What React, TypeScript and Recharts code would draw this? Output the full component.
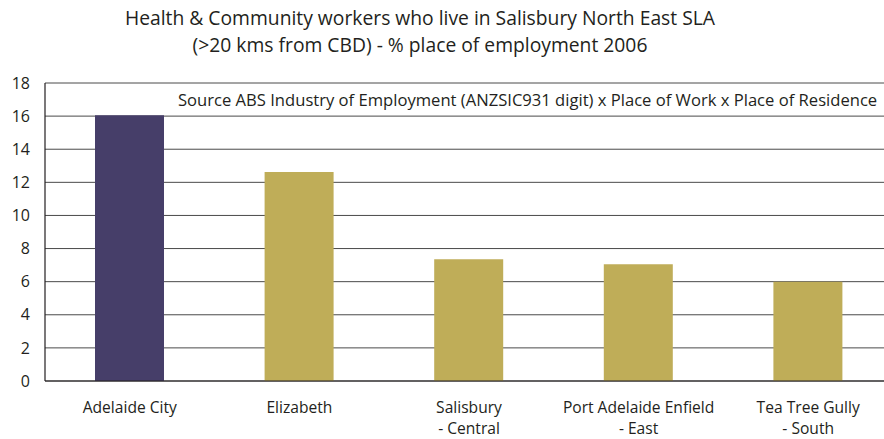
import type { FC } from "react";
import { BarChart, Bar, Cell, XAxis, YAxis, CartesianGrid } from "recharts";

const places = [
  "Adelaide City",
  "Elizabeth",
  "Salisbury\n- Central",
  "Port Adelaide Enfield\n- East",
  "Tea Tree Gully\n- South",
];
const shares = [16.05, 12.62, 7.35, 7.05, 6.0];
const yTicks = [0, 2, 4, 6, 8, 10, 12, 14, 16, 18];
const COLORS = ["#463e69", "#bfad58", "#bfad58", "#bfad58", "#bfad58"];

const data = places.map((name, i) => ({ name, value: shares[i] }));

const FONT = "'Open Sans', sans-serif";

const PlaceTick: FC<any> = ({ x, y, payload }) => {
  const lines = String(payload.value).split("\n");
  return (
    <text x={x} y={y} textAnchor="middle" fill="#231f20" fontSize={15.6} fontFamily={FONT}>
      {lines.map((l, i) => (
        <tspan key={i} x={x} dy={i === 0 ? 23.5 : 21.5}>
          {l}
        </tspan>
      ))}
    </text>
  );
};

const App: FC = () => {
  return (
    <div
      style={{
        position: "absolute",
        left: 0,
        top: 0,
        width: 884,
        height: 439,
        overflow: "hidden",
        background: "#fff",
        fontFamily: FONT,
        color: "#231f20",
      }}
    >
      <div
        style={{
          position: "absolute",
          left: 0,
          width: 840,
          top: 4,
          textAlign: "center",
          fontSize: 19.3,
          lineHeight: "27px",
        }}
      >
        Health &amp; Community workers who live in Salisbury North East SLA
        <br />
        (&gt;20 kms from CBD) - % place of employment 2006
      </div>
      <div
        style={{
          position: "absolute",
          left: 178,
          top: 88,
          fontSize: 16.6,
          whiteSpace: "nowrap",
        }}
      >
        Source ABS Industry of Employment (ANZSIC931 digit) x Place of Work x Place of Residence
      </div>
      <div style={{ position: "absolute", left: 0, top: 0 }}>
        <BarChart
          width={893}
          height={439}
          data={data}
          margin={{ top: 83, right: 0, bottom: 0, left: 0 }}
          barSize={69}
        >
          <CartesianGrid vertical={false} stroke="#4a4a4a" strokeWidth={1} />
          <XAxis
            dataKey="name"
            height={58}
            interval={0}
            tickLine={false}
            axisLine={{ stroke: "#231f20", strokeWidth: 1.2 }}
            tick={<PlaceTick />}
          />
          <YAxis
            width={45}
            domain={[0, 18]}
            ticks={yTicks}
            tickLine={false}
            tickSize={0}
            tickMargin={15}
            axisLine={{ stroke: "#231f20", strokeWidth: 1.2 }}
            tick={{ fill: "#231f20", fontSize: 16, fontFamily: FONT }}
          />
          <Bar dataKey="value" isAnimationActive={false}>
            {data.map((d, i) => (
              <Cell key={`cell-${i}`} fill={COLORS[i]} />
            ))}
          </Bar>
        </BarChart>
      </div>
    </div>
  );
};

export default App;
